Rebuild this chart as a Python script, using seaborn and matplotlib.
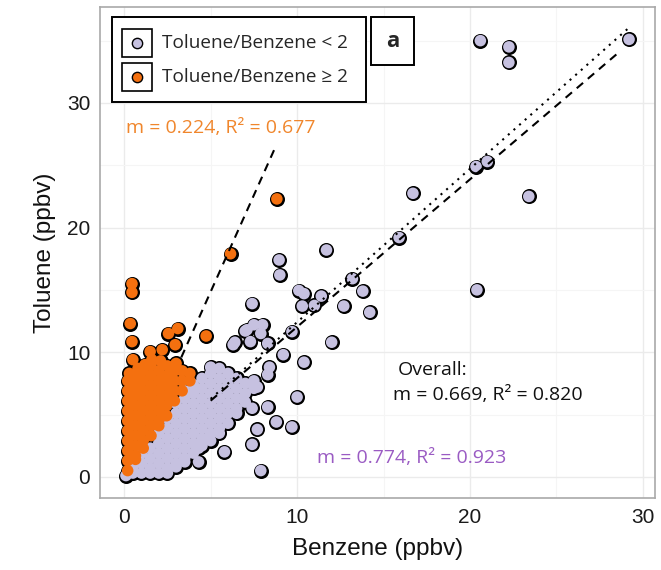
import matplotlib
matplotlib.use("Agg")
import numpy as np
import pandas as pd
import matplotlib.pyplot as plt
from matplotlib.patches import Rectangle
import seaborn as sns

# ---- data: benzene vs toluene mixing ratios (ppbv) ----
# samples with Toluene/Benzene < 2
low_ratio_points = [
    (29.2, 35.1), (20.6, 35.0), (22.25, 34.5), (22.25, 33.25), (16.7, 22.75),
    (20.35, 24.9), (21.0, 25.3), (23.4, 22.5), (20.4, 15.0), (15.9, 19.2),
    (11.7, 18.2), (8.96, 17.4), (9.0, 16.2), (13.2, 15.9), (13.8, 14.9),
    (14.2, 13.2), (12.7, 13.7), (10.1, 14.95), (10.4, 14.7), (11.4, 14.5),
    (11.0, 13.75), (10.3, 13.7), (7.4, 13.9), (9.7, 11.65), (12.0, 10.8),
    (10.4, 9.2), (9.2, 9.8), (7.5, 12.2), (8.0, 12.2), (7.9, 11.5),
    (8.3, 10.7), (7.3, 10.85), (7.0, 11.7), (6.4, 10.8), (6.3, 10.6),
    (10.0, 6.4), (8.3, 5.6), (8.8, 4.4), (9.7, 4.0), (7.7, 3.8),
    (7.4, 2.6), (5.8, 2.0), (7.9, 0.5), (4.3, 2.3), (4.3, 1.2),
    (7.4, 5.5), (8.3, 8.2), (7.7, 7.2), (8.4, 8.8), (7.1, 11.8),
    # dense cluster near the origin
    (0.1, 0.1),
    (0.5, 0.3), (0.5, 0.7),
    (1.0, 0.3), (1.0, 1.1), (1.0, 1.9),
    (1.5, 0.3), (1.5, 0.7), (1.5, 1.5), (1.5, 2.3),
    (2.0, 0.3), (2.0, 1.1), (2.0, 1.9), (2.0, 2.7), (2.0, 3.5),
    (2.5, 0.3), (2.5, 0.7), (2.5, 1.5), (2.5, 2.3), (2.5, 3.1), (2.5, 3.9), (2.5, 4.7),
    (3.0, 0.8), (3.0, 1.1), (3.0, 1.9), (3.0, 2.7), (3.0, 3.5), (3.0, 4.3), (3.0, 5.1), (3.0, 5.9),
    (3.5, 1.2), (3.5, 1.5), (3.5, 2.3), (3.5, 3.1), (3.5, 3.9), (3.5, 4.7), (3.5, 5.5), (3.5, 6.3), (3.5, 6.9),
    (4.0, 1.9), (4.0, 2.7), (4.0, 3.5), (4.0, 4.3), (4.0, 5.1), (4.0, 5.9), (4.0, 6.7), (4.0, 7.4),
    (4.5, 2.5), (4.5, 3.1), (4.5, 3.9), (4.5, 4.7), (4.5, 5.5), (4.5, 6.3), (4.5, 7.1), (4.5, 7.9),
    (5.0, 2.9), (5.0, 3.5), (5.0, 4.3), (5.0, 5.1), (5.0, 5.9), (5.0, 6.7), (5.0, 7.5), (5.0, 8.3), (5.0, 8.8),
    (5.5, 3.5), (5.5, 3.9), (5.5, 4.7), (5.5, 5.5), (5.5, 6.3), (5.5, 7.1), (5.5, 7.9), (5.5, 8.7),
    (6.0, 4.3), (6.0, 5.1), (6.0, 5.9), (6.0, 6.7), (6.0, 7.5), (6.0, 8.3),
    (6.5, 5.1), (6.5, 5.5), (6.5, 6.3), (6.5, 7.1), (6.5, 7.9),
    (7.0, 6.0), (7.0, 6.7), (7.0, 7.5),
    (7.5, 7.1), (7.5, 7.7),
]

# samples with Toluene/Benzene >= 2
high_ratio_points = [
    (0.45, 15.5), (0.45, 14.8), (0.35, 12.3), (0.45, 10.85), (0.5, 9.4),
    (1.5, 10.05), (2.2, 10.2), (2.56, 11.5), (3.1, 11.9), (2.95, 10.6),
    (4.74, 11.3), (6.15, 17.9), (8.83, 22.3),
    # dense cluster along the toluene axis
    (0.2, 0.5), (0.2, 1.3), (0.2, 2.1), (0.2, 2.9), (0.2, 3.7), (0.2, 4.5),
    (0.2, 5.3), (0.2, 6.1), (0.2, 6.9), (0.2, 7.7), (0.3, 8.3),
    (0.65, 1.4), (0.65, 1.7), (0.65, 2.5), (0.65, 3.3), (0.65, 4.1), (0.65, 4.9),
    (0.65, 5.7), (0.65, 6.5), (0.65, 7.3), (0.65, 8.1), (0.8, 8.7),
    (1.1, 2.3), (1.1, 2.9), (1.1, 3.7), (1.1, 4.5), (1.1, 5.3), (1.1, 6.1),
    (1.1, 6.9), (1.1, 7.7), (1.1, 8.5), (1.2, 9.0),
    (1.55, 3.3), (1.55, 4.1), (1.55, 4.9), (1.55, 5.7), (1.55, 6.5), (1.55, 7.3),
    (1.55, 8.1), (1.55, 8.9), (1.6, 9.4),
    (2.0, 4.1), (2.0, 4.5), (2.0, 5.3), (2.0, 6.1), (2.0, 6.9), (2.0, 7.7),
    (2.0, 8.5), (2.1, 9.3),
    (2.45, 4.9), (2.45, 5.7), (2.45, 6.5), (2.45, 7.3), (2.45, 8.1), (2.5, 8.9),
    (2.9, 6.1), (2.9, 6.9), (2.9, 7.7), (2.9, 8.5), (3.0, 9.1),
    (3.35, 6.9), (3.35, 7.7), (3.35, 8.5),
    (3.8, 7.7), (3.8, 8.3),
]

group_labels = ["Toluene/Benzene < 2", "Toluene/Benzene \u2265 2"]
group_colors = ["#C6C1E0", "#F4700F"]

# regression lines drawn on the panel: T/B >= 2 fit, T/B < 2 fit, overall fit
fit_slope = [3.1, 1.184, 1.231]
fit_intercept = [-0.65, 0.19, 0.10]
fit_xstart = [3.3, 5.0, 5.0]
fit_xend = [8.8, 28.7, 29.1]
fit_styles = [(0, (4, 3)), (0, (4, 3)), (0, (1, 2.6))]

fit_labels = ["m = 0.224, R\u00b2 = 0.677", "m = 0.774, R\u00b2 = 0.923",
              "m = 0.669, R\u00b2 = 0.820"]
fit_label_colors = ["#F0862C", "#9A5BC3", "#111111"]

x_ticks = [0, 10, 20, 30]
y_ticks = [0, 10, 20, 30]

# ---- build the long table ----
frames = []
for pts, lab in zip([low_ratio_points, high_ratio_points], group_labels):
    arr = np.array(pts)
    frames.append(pd.DataFrame({"Benzene": arr[:, 0], "Toluene": arr[:, 1], "group": lab}))
df = pd.concat(frames, ignore_index=True)

# ---- figure ----
sns.set_style("white")
plt.rcParams["font.family"] = ["Liberation Sans", "DejaVu Sans"]

fig = plt.figure(figsize=(6.61, 5.70), dpi=100)
ax = fig.add_axes([100 / 661, 1 - 498 / 570, 555 / 661, 491 / 570])

ax.set_xlim(-1.4, 30.7)
ax.set_ylim(-1.7, 37.7)

# light major and minor grid
ax.set_xticks(x_ticks)
ax.set_yticks(y_ticks)
ax.set_xticks([5, 15, 25], minor=True)
ax.set_yticks([5, 15, 25, 35], minor=True)
ax.grid(which="major", color="#EBEBEB", linewidth=1.0)
ax.grid(which="minor", color="#F5F5F5", linewidth=0.8)
ax.set_axisbelow(True)

# outline layer first, then the fills, so overlapping points merge into one shape
sns.scatterplot(data=df, x="Benzene", y="Toluene", color="black", s=117,
                linewidth=0, legend=False, ax=ax, zorder=2)
sns.scatterplot(data=df, x="Benzene", y="Toluene", hue="group",
                hue_order=group_labels, palette=group_colors, s=69,
                linewidth=0, legend=False, ax=ax, zorder=3)

# fit lines
for m, b, x0, x1, ls in zip(fit_slope, fit_intercept, fit_xstart, fit_xend, fit_styles):
    xs = np.array([x0, x1])
    ax.plot(xs, m * xs + b, color="black", linestyle=ls, linewidth=1.5, zorder=4)

# fit annotations
ann_font = ["Open Sans", "DejaVu Sans"]
ax.text(0.12, 28.0, fit_labels[0], color=fit_label_colors[0], fontsize=14,
        family=ann_font, va="center", ha="left", zorder=5)
ax.text(11.16, 1.52, fit_labels[1], color=fit_label_colors[1], fontsize=14,
        family=ann_font, va="center", ha="left", zorder=5)
ax.text(15.84, 8.58, "Overall:", color=fit_label_colors[2], fontsize=14,
        family=ann_font, va="center", ha="left", zorder=5)
ax.text(15.55, 6.58, fit_labels[2], color=fit_label_colors[2], fontsize=14,
        family=ann_font, va="center", ha="left", zorder=5)

# legend drawn as boxed keys
tr = ax.transAxes
ax.add_patch(Rectangle((0.0211, 0.807), 0.4576, 0.172, transform=tr,
                       facecolor="white", edgecolor="black", linewidth=1.4, zorder=6))
key_rows = [(0.8976, 0.926), (0.8295, 0.858)]
for (ybot, yc), lab, col in zip(key_rows, group_labels, group_colors):
    ax.add_patch(Rectangle((0.0391, ybot), 0.0541, 0.057, transform=tr,
                           facecolor="white", edgecolor="black", linewidth=1.2, zorder=7))
    ax.scatter([0.0662], [yc], transform=tr, s=55, color=col, edgecolor="black",
               linewidth=1.0, zorder=8, clip_on=False)
    ax.text(0.111, yc, lab, transform=tr, fontsize=13.7, family=ann_font,
            va="center", ha="left", zorder=8)

# panel tag
ax.add_patch(Rectangle((0.4877, 0.8819), 0.0781, 0.0971, transform=tr,
                       facecolor="white", edgecolor="black", linewidth=1.4, zorder=6))
ax.text(0.5268, 0.930, "a", transform=tr, fontsize=16, fontweight="bold",
        family=ann_font, va="center", ha="center", zorder=8)

# axes styling
for sp in ax.spines.values():
    sp.set_color("#A9A9A9")
    sp.set_linewidth(1.2)
ax.tick_params(axis="both", which="major", direction="out", length=4, width=1.0,
               color="#333333", labelsize=15, labelcolor="#1A1A1A", pad=3)
ax.tick_params(axis="both", which="minor", length=0)
ax.set_xlabel("Benzene (ppbv)", fontsize=17.5, color="#111111", labelpad=8)
ax.set_ylabel("Toluene (ppbv)", fontsize=17.5, color="#111111", labelpad=8)

fig.savefig("out.png", dpi=100)
